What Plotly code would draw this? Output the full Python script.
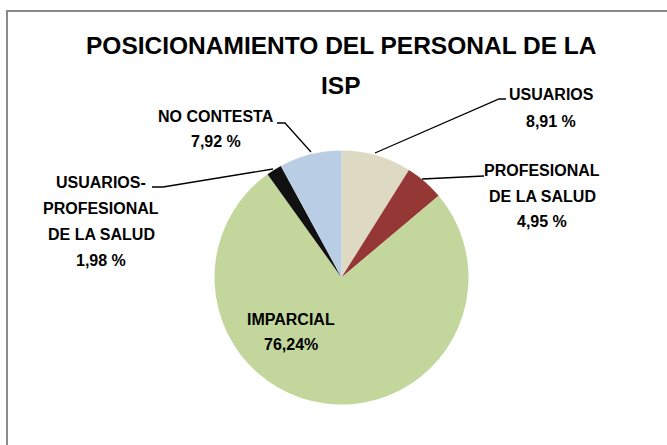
import plotly.graph_objects as go

# ---- data ----
categories = ["USUARIOS", "PROFESIONAL DE LA SALUD", "IMPARCIAL",
              "USUARIOS-PROFESIONAL DE LA SALUD", "NO CONTESTA"]
values = [8.91, 4.95, 76.24, 1.98, 7.92]
pct_text = ["8,91 %", "4,95 %", "76,24%", "1,98 %", "7,92 %"]
label_lines = [["USUARIOS"], ["PROFESIONAL", "DE LA SALUD"], ["IMPARCIAL"],
               ["USUARIOS-", "PROFESIONAL", "DE LA SALUD"], ["NO CONTESTA"]]
colors = ["#DDD9C3", "#953735", "#C3D69B", "#111111", "#B9CDE5"]
title_lines = ["POSICIONAMIENTO DEL PERSONAL DE LA", "ISP"]

W, H = 667, 445
def px(x):
    return x / W
def py(y):
    return 1 - y / H

FONT = "Liberation Sans, Arial, sans-serif"

cx, cy, r = 341.5, 277.5, 127

fig = go.Figure(go.Pie(
    labels=categories, values=values, sort=False, direction="clockwise",
    rotation=0, marker=dict(colors=colors, line=dict(width=0)),
    textinfo="none", hoverinfo="label+percent", showlegend=False,
    domain=dict(x=[px(cx - r), px(cx + r)], y=[py(cy + r), py(cy - r)]),
))

# label positions: center x, first-line y, line spacing (pixels)
label_pos = [(551, 94.5, 27), (542, 171, 25.3), (291, 319.5, 25),
             (101, 183, 25.7), (216, 116, 25.5)]
leaders = [
    [(506, 99), (499, 99), (375, 153)],
    [(484, 176), (422, 179)],
    None,
    [(152, 187), (163, 187), (273, 169)],
    [(277, 123), (285, 123), (311, 152)],
]

annotations = []
shapes = []
for lines, pct, (x, y0, dy), ld in zip(label_lines, pct_text, label_pos, leaders):
    for i, t in enumerate(lines + [pct]):
        annotations.append(dict(
            x=px(x), y=py(y0 + i * dy), xref="paper", yref="paper",
            showarrow=False, text=f"<b>{t}</b>", xanchor="center",
            yanchor="middle", align="center",
            font=dict(family=FONT, size=16, color="#000000")))
    if ld:
        path = "M " + " L ".join(f"{px(a)},{py(b)}" for a, b in ld)
        shapes.append(dict(type="path", xref="paper", yref="paper", path=path,
                           line=dict(color="#000000", width=1.3)))

for i, t in enumerate(title_lines):
    annotations.append(dict(
        x=px(341), y=py(45.5 + i * 39.5), xref="paper", yref="paper",
        showarrow=False, text=f"<b>{t}</b>", xanchor="center",
        yanchor="middle", align="center",
        font=dict(family=FONT, size=24.5, color="#000000")))

# chart frame (left and top edges visible, rest runs off the picture)
shapes.append(dict(type="path", xref="paper", yref="paper",
                   path=f"M {px(7)},{py(460)} L {px(7)},{py(11)} L {px(700)},{py(11)}",
                   line=dict(color="#8A8A8A", width=2)))

fig.update_layout(
    width=W, height=H, autosize=False,
    margin=dict(l=0, r=0, t=0, b=0),
    paper_bgcolor="#FFFFFF", plot_bgcolor="#FFFFFF",
    annotations=annotations, shapes=shapes,
)

fig.write_html("out.html", config={"displayModeBar": False},
               post_script="document.body.style.margin='0';")
